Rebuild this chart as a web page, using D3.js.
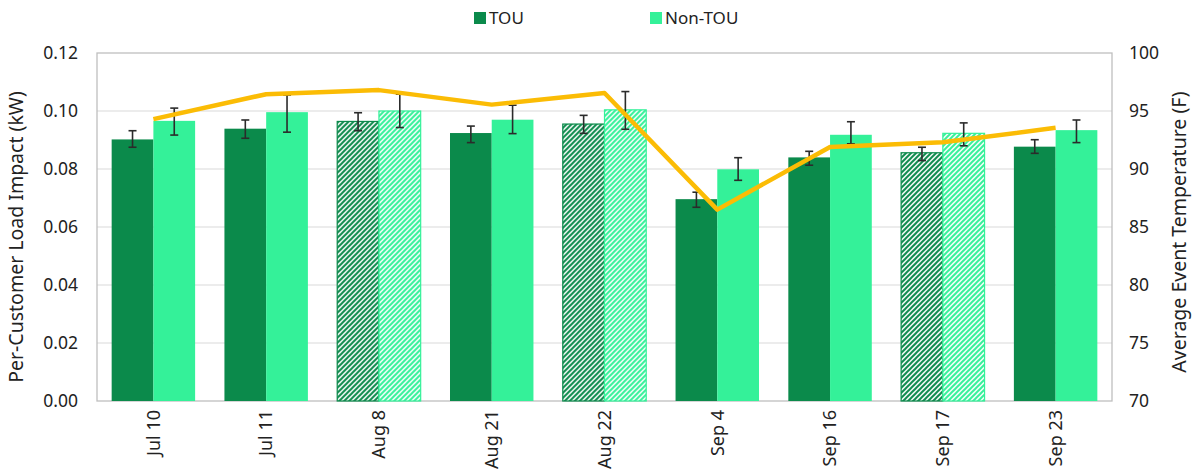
<!DOCTYPE html>
<html>
<head>
<meta charset="utf-8">
<script src="https://cdn.jsdelivr.net/npm/d3@7"></script>
<style>
  body { margin: 0; background: #fff; }
  text { font-family: "Noto Sans", "Open Sans", sans-serif; fill: #222; }
</style>
</head>
<body>
<div id="chart"></div>
<script>

// event days
var events = ["Jul 10", "Jul 11", "Aug 8", "Aug 21", "Aug 22", "Sep 4", "Sep 16", "Sep 17", "Sep 23"];
// days drawn with hatching
var hatchedEvents = ["Aug 8", "Aug 22", "Sep 17"];

// per-customer load impact (kW)
var touImpact    = [0.0902, 0.0939, 0.0964, 0.0924, 0.0955, 0.0696, 0.0840, 0.0856, 0.0877];
var touLow       = [0.0875, 0.0906, 0.0932, 0.0891, 0.0923, 0.0668, 0.0813, 0.0829, 0.0854];
var touHigh      = [0.0932, 0.0969, 0.0994, 0.0948, 0.0985, 0.0720, 0.0861, 0.0875, 0.0901];
var nonTouImpact = [0.0966, 0.0996, 0.1000, 0.0970, 0.1004, 0.0799, 0.0918, 0.0923, 0.0934];
var nonTouLow    = [0.0917, 0.0927, 0.0943, 0.0922, 0.0937, 0.0761, 0.0887, 0.0880, 0.0891];
var nonTouHigh   = [0.1010, 0.1055, 0.1058, 0.1020, 0.1067, 0.0839, 0.0963, 0.0959, 0.0969];

// average event temperature (F)
var avgTemp = [94.3, 96.45, 96.8, 95.55, 96.55, 86.5, 91.9, 92.3, 93.55];

var leftTicks  = [0, 0.02, 0.04, 0.06, 0.08, 0.10, 0.12];
var rightTicks = [70, 75, 80, 85, 90, 95, 100];

var seriesNames = ["TOU", "Non-TOU"];
var colors = { "TOU": "#0b8a4b", "Non-TOU": "#34f199" };

var W = 1192, H = 470;
var margin = { top: 53, right: 80, bottom: 69, left: 97 };
var width = W - margin.left - margin.right,
    height = H - margin.top - margin.bottom;

var svg = d3.select("#chart").append("svg")
    .attr("width", W)
    .attr("height", H);

// hatch patterns
var defs = svg.append("defs");
seriesNames.forEach(function(s, i) {
    var p = defs.append("pattern")
        .attr("id", "hatch" + i)
        .attr("patternUnits", "userSpaceOnUse")
        .attr("width", 5)
        .attr("height", 5);
    p.append("rect").attr("width", 5).attr("height", 5).attr("fill", "#fff");
    p.append("path")
        .attr("d", "M-1,1 l2,-2 M0,5 l5,-5 M4,6 l2,-2")
        .attr("stroke", colors[s])
        .attr("stroke-width", 2);
});

var g = svg.append("g")
    .attr("transform", "translate(" + margin.left + "," + margin.top + ")");

// scales
var x0 = d3.scaleBand()
    .domain(events)
    .range([0, width])
    .paddingInner(0.26)
    .paddingOuter(0.13);

var x1 = d3.scaleBand()
    .domain(seriesNames)
    .range([0, x0.bandwidth()]);

var y = d3.scaleLinear()
    .domain([0, 0.12])
    .range([height, 0]);

var yT = d3.scaleLinear()
    .domain([70, 100])
    .range([height, 0]);

// gridlines
g.selectAll(".grid")
    .data(leftTicks.slice(1, -1))
    .enter().append("line")
    .attr("class", "grid")
    .attr("x1", 0)
    .attr("x2", width)
    .attr("y1", function(d) { return y(d); })
    .attr("y2", function(d) { return y(d); })
    .attr("stroke", "#d9d9d9")
    .attr("stroke-width", 1);

// frame
g.append("rect")
    .attr("width", width)
    .attr("height", height)
    .attr("fill", "none")
    .attr("stroke", "#bfbfbf")
    .attr("stroke-width", 1.3);

// data rows
var rows = events.map(function(e, i) {
    return {
        event: e,
        hatched: hatchedEvents.indexOf(e) >= 0,
        values: [
            { key: "TOU", v: touImpact[i], lo: touLow[i], hi: touHigh[i] },
            { key: "Non-TOU", v: nonTouImpact[i], lo: nonTouLow[i], hi: nonTouHigh[i] }
        ]
    };
});

var groups = g.selectAll(".group")
    .data(rows)
    .enter().append("g")
    .attr("class", "group")
    .attr("transform", function(d) { return "translate(" + x0(d.event) + ",0)"; });

groups.selectAll("rect")
    .data(function(d) {
        return d.values.map(function(v) { v.hatched = d.hatched; return v; });
    })
    .enter().append("rect")
    .attr("x", function(d) { return x1(d.key); })
    .attr("width", x1.bandwidth())
    .attr("y", function(d) { return y(d.v); })
    .attr("height", function(d) { return height - y(d.v); })
    .attr("fill", function(d) {
        return d.hatched ? "url(#hatch" + seriesNames.indexOf(d.key) + ")" : colors[d.key];
    })
    .attr("stroke", function(d) { return d.hatched ? colors[d.key] : "none"; })
    .attr("stroke-width", 1.2);

// temperature line
var line = d3.line()
    .x(function(d, i) { return x0(events[i]) + x0.bandwidth() / 2; })
    .y(function(d) { return yT(d); });

g.append("path")
    .datum(avgTemp)
    .attr("d", line)
    .attr("fill", "none")
    .attr("stroke", "#fbbc05")
    .attr("stroke-width", 4.5)
    .attr("stroke-linejoin", "round");

// error bars
var errs = groups.selectAll(".err")
    .data(function(d) { return d.values; })
    .enter().append("g")
    .attr("class", "err")
    .attr("transform", function(d) { return "translate(" + (x1(d.key) + x1.bandwidth() / 2) + ",0)"; });

errs.append("line")
    .attr("y1", function(d) { return y(d.lo); })
    .attr("y2", function(d) { return y(d.hi); });
errs.append("line")
    .attr("x1", -4).attr("x2", 4)
    .attr("y1", function(d) { return y(d.lo); })
    .attr("y2", function(d) { return y(d.lo); });
errs.append("line")
    .attr("x1", -4).attr("x2", 4)
    .attr("y1", function(d) { return y(d.hi); })
    .attr("y2", function(d) { return y(d.hi); });
errs.selectAll("line")
    .attr("stroke", "#2b2b2b")
    .attr("stroke-width", 1.6);

// axes
var yAxis = d3.axisLeft(y)
    .tickValues(leftTicks)
    .tickFormat(d3.format(".2f"))
    .tickSize(0)
    .tickPadding(19);

var yAxisR = d3.axisRight(yT)
    .tickValues(rightTicks)
    .tickSize(0)
    .tickPadding(17);

var xAxis = d3.axisBottom(x0)
    .tickSize(0)
    .tickPadding(0);

g.append("g").call(yAxis)
    .call(function(a) { a.select(".domain").remove(); })
    .selectAll("text").attr("font-size", 17.5).attr("fill", "#222");

g.append("g")
    .attr("transform", "translate(" + width + ",0)")
    .call(yAxisR)
    .call(function(a) { a.select(".domain").remove(); })
    .selectAll("text").attr("font-size", 17.5).attr("fill", "#222");

g.append("g")
    .attr("transform", "translate(0," + height + ")")
    .call(xAxis)
    .call(function(a) { a.select(".domain").remove(); })
    .selectAll("text")
    .attr("font-size", 18)
    .attr("fill", "#222")
    .attr("transform", "rotate(-90)")
    .attr("text-anchor", "end")
    .attr("x", -9)
    .attr("y", 0)
    .attr("dy", "0.35em");

// axis titles
svg.append("text")
    .attr("transform", "translate(23," + (margin.top + height / 2 + 10) + ") rotate(-90)")
    .attr("text-anchor", "middle")
    .attr("font-size", 19.5)
    .text("Per-Customer Load Impact (kW)");

svg.append("text")
    .attr("transform", "translate(1186," + (margin.top + height / 2 + 5) + ") rotate(-90)")
    .attr("text-anchor", "middle")
    .attr("font-size", 19.5)
    .text("Average Event Temperature (F)");

// legend
var legendX = [474, 650];
var legend = svg.selectAll(".legend")
    .data(seriesNames)
    .enter().append("g")
    .attr("class", "legend")
    .attr("transform", function(d, i) { return "translate(" + legendX[i] + ",12)"; });

legend.append("rect")
    .attr("width", 12)
    .attr("height", 12)
    .attr("fill", function(d) { return colors[d]; });

legend.append("text")
    .attr("x", 15)
    .attr("y", 6)
    .attr("dy", "0.35em")
    .attr("font-size", 17)
    .text(function(d) { return d; });

</script>
</body>
</html>
